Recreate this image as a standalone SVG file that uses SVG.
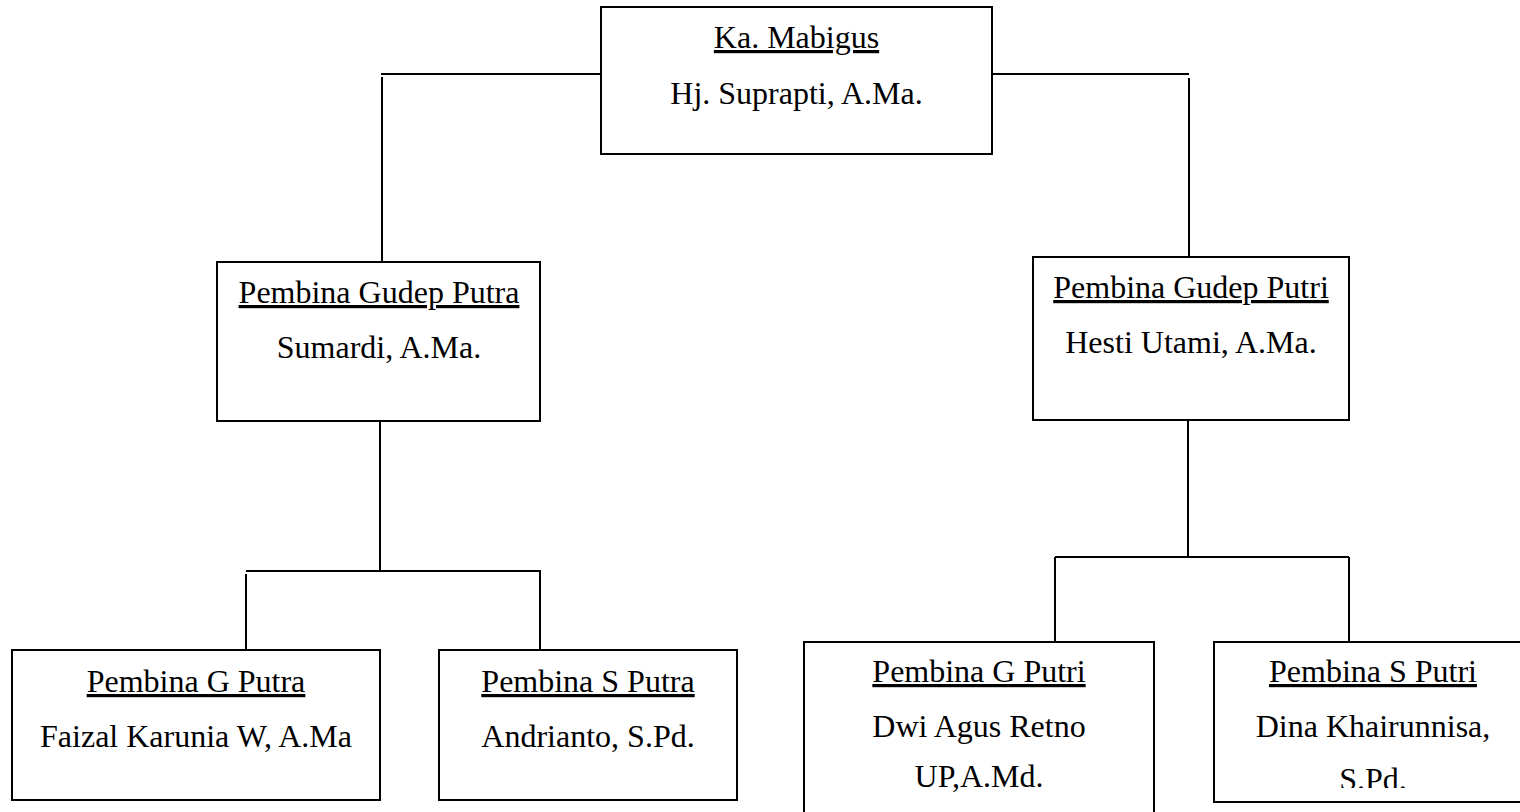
<svg xmlns="http://www.w3.org/2000/svg" width="1520" height="812" viewBox="0 0 1520 812">
  <style>
    .box { fill: #ffffff; stroke: #000000; stroke-width: 2; }
    .wire { fill: none; stroke: #000000; stroke-width: 2; }
    .t { font-family: "Liberation Serif", "Times New Roman", serif; font-size: 32px; fill: #000000; text-anchor: middle; }
    .title { text-decoration: underline; }
  </style>
  <defs>
    <clipPath id="clip-sputri">
      <rect x="1214" y="642" width="318" height="146"/>
    </clipPath>
  </defs>
  <rect width="1520" height="812" fill="#ffffff"/>

  <!-- connectors -->
  <g id="connectors">
    <path class="wire" d="M600 74 H381 M382 77 V262"/>
    <path class="wire" d="M992 74 H1189 M1189 78 V257"/>
    <path class="wire" d="M380 421 V571 M246 571 H540 V650 M246 574 V650"/>
    <path class="wire" d="M1188 420 V557 M1055 557 H1349 M1055 557 V642 M1349 557 V642"/>
  </g>

  <!-- head of the group -->
  <g id="ka-mabigus">
    <rect class="box" x="601" y="7" width="391" height="147"/>
    <text class="t title" x="796.5" y="48">Ka. Mabigus</text>
    <text class="t" x="796.5" y="104">Hj. Suprapti, A.Ma.</text>
  </g>

  <g id="gudep-putra">
    <rect class="box" x="217" y="262" width="323" height="159"/>
    <text class="t title" x="379" y="303">Pembina Gudep Putra</text>
    <text class="t" x="379" y="358">Sumardi, A.Ma.</text>
  </g>

  <g id="gudep-putri">
    <rect class="box" x="1033" y="257" width="316" height="163"/>
    <text class="t title" x="1191" y="298">Pembina Gudep Putri</text>
    <text class="t" x="1191" y="353">Hesti Utami, A.Ma.</text>
  </g>

  <g id="g-putra">
    <rect class="box" x="12" y="650" width="368" height="150"/>
    <text class="t title" x="196" y="692">Pembina G Putra</text>
    <text class="t" x="196" y="747">Faizal Karunia W, A.Ma</text>
  </g>

  <g id="s-putra">
    <rect class="box" x="439" y="650" width="298" height="150"/>
    <text class="t title" x="588" y="692">Pembina S Putra</text>
    <text class="t" x="588" y="747">Andrianto, S.Pd.</text>
  </g>

  <g id="g-putri">
    <rect class="box" x="804" y="642" width="350" height="200"/>
    <text class="t title" x="979" y="682">Pembina G Putri</text>
    <text class="t" x="979" y="737">Dwi Agus Retno</text>
    <text class="t" x="979" y="787">UP,A.Md.</text>
  </g>

  <g id="s-putri">
    <rect class="box" x="1214" y="642" width="318" height="160"/>
    <text class="t title" x="1373" y="682">Pembina S Putri</text>
    <text class="t" x="1373" y="737">Dina Khairunnisa,</text>
    <text class="t" x="1373" y="790" clip-path="url(#clip-sputri)">S.Pd.</text>
  </g>
</svg>
